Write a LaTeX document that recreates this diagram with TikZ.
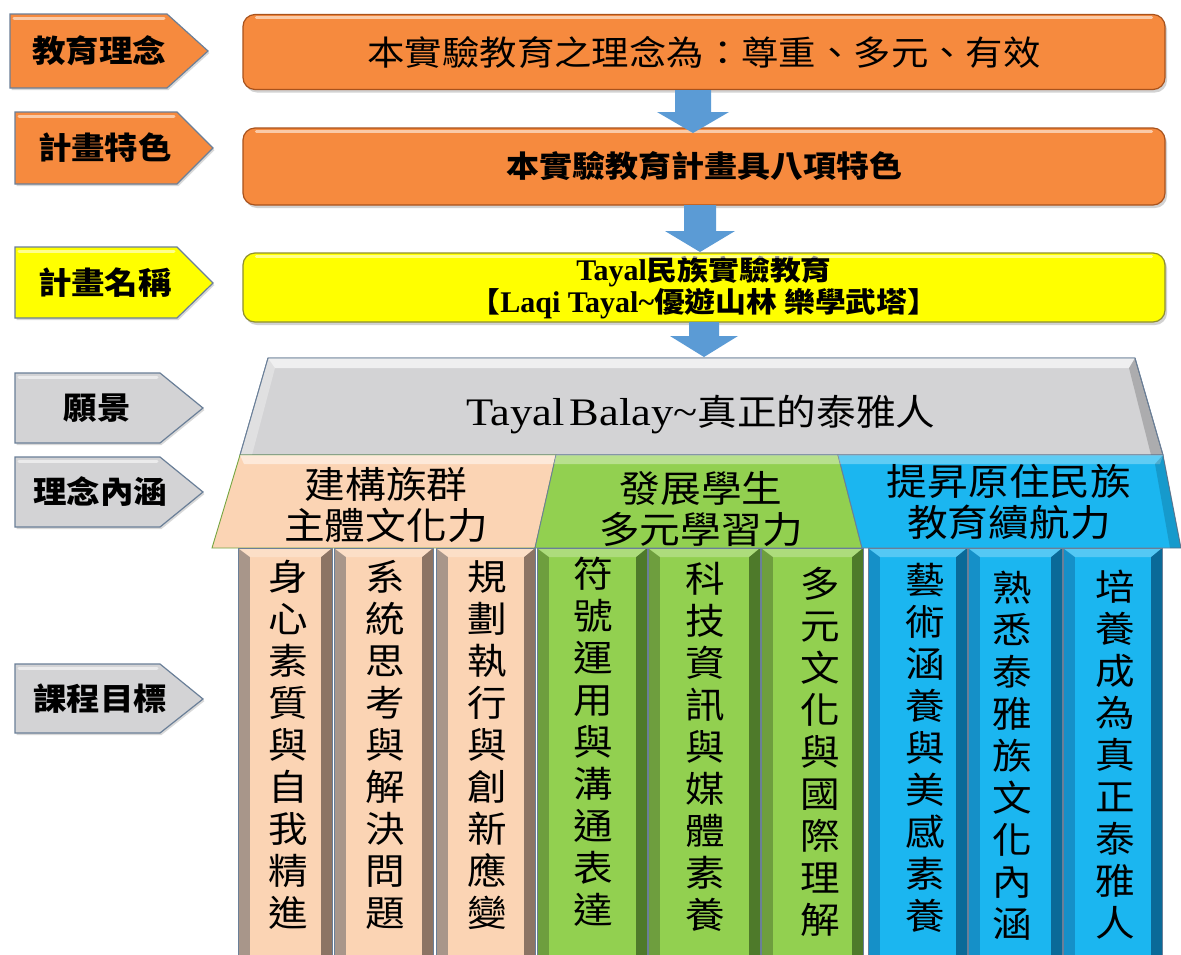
\documentclass[tikz,border=0pt]{standalone}
\usepackage{fontspec}
\setmainfont{Liberation Serif}
\newfontfamily\cjk[FakeStretch=1.1]{Noto Sans CJK TC}
\newfontfamily\cjklab[FakeStretch=1.08]{Noto Sans CJK TC}
\newfontfamily\lat{Liberation Serif}
\newfontfamily\latw[FakeStretch=1.14]{Liberation Serif}
\usetikzlibrary{shadows}
\definecolor{orangeF}{HTML}{F68A3E}
\definecolor{orangeD}{HTML}{A8521C}
\definecolor{yellowF}{HTML}{FFFF00}
\definecolor{yellowD}{HTML}{8E8E30}
\definecolor{grayF}{HTML}{D3D3D5}
\definecolor{edgeC}{HTML}{6A7F98}
\definecolor{arrowC}{HTML}{5B9BD5}
\definecolor{peachF}{HTML}{FBD4B4}
\definecolor{peachL}{HTML}{A8968A}
\definecolor{peachR}{HTML}{8C7464}
\definecolor{greenF}{HTML}{92D050}
\definecolor{greenL}{HTML}{6E9E3E}
\definecolor{greenR}{HTML}{4E7A2A}
\definecolor{blueF}{HTML}{1BB6F0}
\definecolor{blueL}{HTML}{1590C8}
\definecolor{blueR}{HTML}{0A6A98}
\tikzset{
  labshape/.style={draw=edgeC, line width=1.2pt, drop shadow={shadow xshift=1.5pt, shadow yshift=-2pt, opacity=0.3}},
  labtext/.style={inner sep=0pt, font=\cjklab\bfseries\fontsize{31}{34}\selectfont},
  hilite/.style={white, opacity=0.55, line width=3pt, line cap=round},
  mainbox/.style={rounded corners=12pt, line width=1.2pt, inner sep=0pt, drop shadow={shadow xshift=2pt, shadow yshift=-3pt, opacity=0.35}},
  coltext/.style={inner sep=0pt, align=center, font=\cjk\fontsize{36}{42}\selectfont},
  cattext/.style={inner sep=0pt, align=center, font=\cjk\fontsize{37}{41}\selectfont},
  trap/.style={draw=edgeC, line width=0.9pt},
}
\newcommand\blockdown[5]{% x, ytop, ytip, shaft half, head half
  \fill[arrowC] (#1-#4,#2) -- (#1+#4,#2) -- (#1+#4,#3-21) -- (#1+#5,#3-21) -- (#1,#3)
    -- (#1-#5,#3-21) -- (#1-#4,#3-21) -- cycle;}
\newcommand\mycolumn[5]{% x1, x2, light, leftdark, rightdark
  \fill[#4] (#1,548) rectangle (#1+12,960);
  \fill[#5] (#2-11,548) rectangle (#2,960);
  \fill[#3] (#1+12,557) rectangle (#2-11,960);
  \fill[#3!75!white] (#1,548) -- (#2,548) -- (#2-11,557) -- (#1+12,557) -- cycle;
  \draw[edgeC, line width=0.8pt] (#1,960) -- (#1,548) -- (#2,548) -- (#2,960);}
\begin{document}
\begin{tikzpicture}[x=1pt,y=-1pt]
\useasboundingbox (0,0) rectangle (1181,954);
\fill[white] (0,0) rectangle (1181,954);
\clip (0,0) rectangle (1181,954);

% left labels
\path[labshape, fill=orangeF] (10,14) -- (167,14) -- (208,51) -- (167,88) -- (10,88) -- cycle;
\draw[hilite] (14,18) -- (164,18);
\node[labtext] (l1) at (99,51) {教育理念};
\path[labshape, fill=orangeF] (15,112) -- (177,112) -- (213,148) -- (177,184) -- (15,184) -- cycle;
\draw[hilite] (19,116) -- (174,116);
\node[labtext] (l2) at (105,148) {計畫特色};
\path[labshape, fill=yellowF] (15,247) -- (177,247) -- (213,283) -- (177,318) -- (15,318) -- cycle;
\draw[hilite] (19,251) -- (174,251);
\node[labtext] (l3) at (105,283) {計畫名稱};
\path[labshape, fill=grayF] (15,373) -- (160,373) -- (203,408) -- (160,443) -- (15,443) -- cycle;
\draw[hilite] (19,377) -- (157,377);
\node[labtext] (l4) at (97,408) {願景};
\path[labshape, fill=grayF] (15,457) -- (160,457) -- (203,492) -- (160,527) -- (15,527) -- cycle;
\draw[hilite] (19,461) -- (157,461);
\node[labtext] (l5) at (100,492) {理念內涵};
\path[labshape, fill=grayF] (15,664) -- (160,664) -- (203,699) -- (160,733) -- (15,733) -- cycle;
\draw[hilite] (19,668) -- (157,668);
\node[labtext] (l6) at (100,699) {課程目標};

% main boxes
\node[mainbox, fill=orangeF, draw=orangeD, minimum width=922pt, minimum height=75pt,
  font=\cjk\fontsize{34}{36}\selectfont] (b1) at (704,52) {本實驗教育之理念為：尊重、多元、有效};
\draw[hilite] ([xshift=14pt,yshift=-4pt]b1.north west) -- ([xshift=-14pt,yshift=-4pt]b1.north east);
\node[mainbox, fill=orangeF, draw=orangeD, minimum width=922pt, minimum height=77pt,
  font=\cjk\bfseries\fontsize{30}{32}\selectfont] (b2) at (704,166.5) {本實驗教育計畫具八項特色};
\draw[hilite] ([xshift=14pt,yshift=-4pt]b2.north west) -- ([xshift=-14pt,yshift=-4pt]b2.north east);
\node[mainbox, fill=yellowF, draw=yellowD, minimum width=922pt, minimum height=69pt, align=center,
  font=\cjk\bfseries\fontsize{28}{30}\selectfont] (b3) at (704,287.5)
  {{\lat\bfseries\fontsize{30}{30}\selectfont Tayal}民族實驗教育\\【{\lat\bfseries\fontsize{30}{30}\selectfont Laqi Tayal\textasciitilde}優遊山林 樂學武塔】};
\draw[hilite] ([xshift=14pt,yshift=-4pt]b3.north west) -- ([xshift=-14pt,yshift=-4pt]b3.north east);

% arrows
\blockdown{693}{90}{133}{18}{36}
\blockdown{700}{205}{252}{16}{35}
\blockdown{704}{322}{357}{15}{34}

% roof
\path[trap, fill=grayF] (268,358) -- (1135,358) -- (1163,455) -- (240,455) -- cycle;
\fill[white, opacity=0.65] (268,358) -- (1135,358) -- (1129,368) -- (275,368) -- cycle;
\fill[black, opacity=0.18] (1135,358) -- (1163,455) -- (1151,455) -- (1129,368) -- cycle;
\fill[white, opacity=0.3] (268,358) -- (275,368) -- (252,455) -- (240,455) -- cycle;
\draw[trap] (268,358) -- (1135,358) -- (1163,455) -- (240,455) -- cycle;
\node[inner sep=0pt, font=\cjk\fontsize{36}{38}\selectfont] (vision) at (701,415)
  {{\latw\fontsize{39}{40}\selectfont Tayal\hspace{5pt}Balay\textasciitilde}真正的泰雅人};

% categories
\path[fill=peachF, draw=greenF!80!black, line width=0.9pt] (240,455) -- (556,455) -- (535,548) -- (212,548) -- cycle;
\fill[white, opacity=0.5] (240,455) -- (556,455) -- (553,464) -- (244,464) -- cycle;
\path[fill=greenF, draw=edgeC, line width=0.9pt] (556,455) -- (838,455) -- (862,548) -- (535,548) -- cycle;
\fill[white, opacity=0.35] (556,455) -- (838,455) -- (840,464) -- (554,464) -- cycle;
\path[fill=blueF, draw=edgeC, line width=0.9pt] (838,455) -- (1163,455) -- (1181,548) -- (862,548) -- cycle;
\fill[white, opacity=0.3] (838,455) -- (1163,455) -- (1160,464) -- (840,464) -- cycle;
\fill[black, opacity=0.15] (1163,455) -- (1181,548) -- (1170,548) -- (1155,464) -- cycle;
\node[cattext] (c1) at (386,505) {建構族群\\主體文化力};
\node[cattext] (c2) at (701,509) {發展學生\\多元學習力};
\node[cattext] (c3) at (1009,502) {提昇原住民族\\教育續航力};

% columns
\mycolumn{238}{332}{peachF}{peachL}{peachR}
\mycolumn{334}{433}{peachF}{peachL}{peachR}
\mycolumn{436}{535}{peachF}{peachL}{peachR}
\mycolumn{537}{647}{greenF}{greenL}{greenR}
\mycolumn{648}{760}{greenF}{greenL}{greenR}
\mycolumn{761}{863}{greenF}{greenL}{greenR}
\mycolumn{868}{967}{blueF}{blueL}{blueR}
\mycolumn{968}{1062}{blueF}{blueL}{blueR}
\mycolumn{1063}{1162}{blueF}{blueL}{blueR}

\node[coltext] (t1) at (288,745) {身\\心\\素\\質\\與\\自\\我\\精\\進};
\node[coltext] (t2) at (385,745) {系\\統\\思\\考\\與\\解\\決\\問\\題};
\node[coltext] (t3) at (487,745) {規\\劃\\執\\行\\與\\創\\新\\應\\變};
\node[coltext] (t4) at (593,742) {符\\號\\運\\用\\與\\溝\\通\\表\\達};
\node[coltext] (t5) at (705,747) {科\\技\\資\\訊\\與\\媒\\體\\素\\養};
\node[coltext] (t6) at (820,752) {多\\元\\文\\化\\與\\國\\際\\理\\解};
\node[coltext] (t7) at (925,748) {藝\\術\\涵\\養\\與\\美\\感\\素\\養};
\node[coltext] (t8) at (1012,756) {熟\\悉\\泰\\雅\\族\\文\\化\\內\\涵};
\node[coltext] (t9) at (1115,755) {培\\養\\成\\為\\真\\正\\泰\\雅\\人};
\end{tikzpicture}
\end{document}
